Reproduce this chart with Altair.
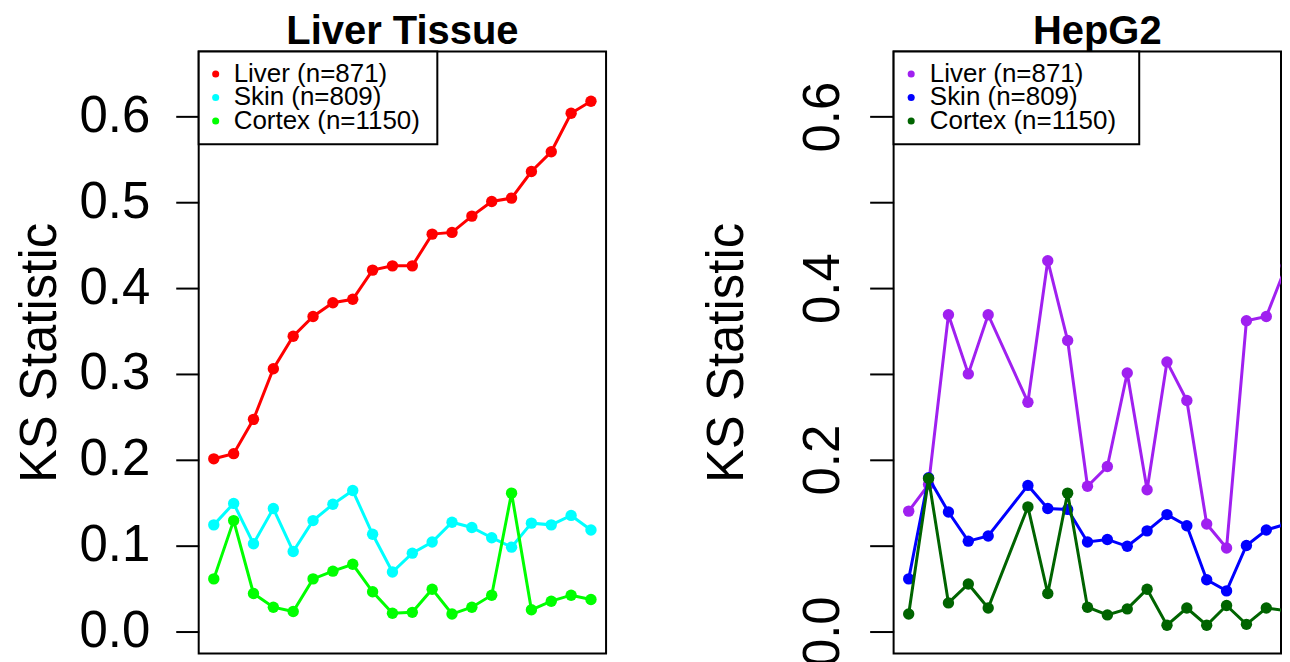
import altair as alt
import pandas as pd

series_names = ["Liver (n=871)", "Skin (n=809)", "Cortex (n=1150)"]

# Left panel: Liver Tissue
tissue_x = list(range(1, 21))
tissue_liver = [0.201, 0.207, 0.247, 0.306, 0.344, 0.367, 0.383, 0.387, 0.421, 0.426,
                0.426, 0.463, 0.465, 0.484, 0.501, 0.505, 0.536, 0.559, 0.604, 0.618]
tissue_skin = [0.124, 0.149, 0.102, 0.143, 0.093, 0.129, 0.148, 0.164, 0.113, 0.069,
               0.091, 0.104, 0.127, 0.121, 0.109, 0.098, 0.126, 0.124, 0.135, 0.118]
tissue_cortex = [0.061, 0.129, 0.044, 0.028, 0.023, 0.061, 0.070, 0.078, 0.046, 0.021,
                 0.022, 0.049, 0.020, 0.028, 0.042, 0.161, 0.025, 0.035, 0.042, 0.037]
tissue_colors = ["#FF0000", "#00FFFF", "#00FF00"]

# Right panel: HepG2 (position 6 has no value)
hepg2_x = [1, 2, 3, 4, 5, 7, 8, 9, 10, 11, 12, 13, 14, 15, 16, 17, 18, 19, 20]
hepg2_liver = [0.140, 0.171, 0.369, 0.300, 0.369, 0.267, 0.432, 0.339, 0.169, 0.192,
               0.301, 0.165, 0.314, 0.269, 0.125, 0.097, 0.362, 0.367, 0.426]
hepg2_skin = [0.061, 0.179, 0.139, 0.105, 0.111, 0.170, 0.143, 0.142, 0.104, 0.107,
              0.099, 0.117, 0.136, 0.123, 0.060, 0.047, 0.100, 0.118, 0.125]
hepg2_cortex = [0.020, 0.178, 0.033, 0.055, 0.027, 0.145, 0.044, 0.161, 0.028, 0.019,
                0.026, 0.049, 0.007, 0.027, 0.007, 0.030, 0.008, 0.027, 0.024]
hepg2_colors = ["#A020F0", "#0000FF", "#006400"]

y_ticks = [0.0, 0.1, 0.2, 0.3, 0.4, 0.5, 0.6]
FONT = "Liberation Sans"


def make_panel(xs, series_vals, colors, title, rotated, width, xmax, legend_w,
               leg_dot_x, leg_text_x, title_dx):
    rows = []
    for name, vals in zip(series_names, series_vals):
        for x, v in zip(xs, vals):
            rows.append({"x": x, "ks": v, "series": name})
    df = pd.DataFrame(rows)

    xsc = alt.Scale(domain=[0.24, xmax], nice=False, zero=False)
    ysc = alt.Scale(domain=[-0.026, 0.676], nice=False, zero=False)

    if rotated:
        yaxis = alt.Axis(values=y_ticks, format=".1f", labelAngle=270, labelAlign="center",
                         labelBaseline="alphabetic", labelFontSize=51, labelFont=FONT,
                         labelExpr="round(datum.value*10) % 2 == 0 ? datum.label : ''",
                         tickSize=24, labelPadding=31, minExtent=100, maxExtent=100,
                         titlePadding=40, titleFontSize=51, titleFont=FONT,
                         titleFontWeight="normal", labelOverlap=False)
    else:
        yaxis = alt.Axis(values=y_ticks, format=".1f", labelFontSize=51, labelFont=FONT,
                         tickSize=23, labelPadding=26, minExtent=116, maxExtent=116,
                         titlePadding=16, titleFontSize=51, titleFont=FONT,
                         titleFontWeight="normal", labelOverlap=False)

    cscale = alt.Scale(domain=series_names, range=colors)

    layers = []
    for name in series_names:
        base = alt.Chart(df).transform_filter(alt.datum.series == name).encode(
            x=alt.X("x:Q", scale=xsc, axis=None),
            y=alt.Y("ks:Q", scale=ysc, axis=yaxis, title="KS Statistic"),
            color=alt.Color("series:N", scale=cscale, legend=None),
        )
        layers.append(base.mark_line(strokeWidth=3, clip=True))
        layers.append(base.mark_circle(size=130, opacity=1, clip=True))

    # legend box (drawn in pixel space at the top-left of the plot)
    one = pd.DataFrame({"k": [0]})
    layers.append(alt.Chart(one).mark_rect(fill="white", stroke="black", strokeWidth=2).encode(
        x=alt.value(0), x2=alt.value(legend_w), y=alt.value(0), y2=alt.value(93)))
    for i, (name, col) in enumerate(zip(series_names, colors)):
        ypix = 22.6 + i * 23.5
        lab = pd.DataFrame({"label": [name]})
        layers.append(alt.Chart(lab).mark_circle(size=50, opacity=1, color=col).encode(
            x=alt.value(leg_dot_x), y=alt.value(ypix)))
        layers.append(alt.Chart(lab).mark_text(align="left", baseline="middle", fontSize=26,
                                                font=FONT, color="black").encode(
            text="label:N", x=alt.value(leg_text_x), y=alt.value(ypix)))

    return alt.layer(*layers).properties(
        width=width, height=603,
        title=alt.Title(title, fontSize=40, font=FONT, fontWeight="bold", anchor="middle",
                        frame="group", baseline="alphabetic", offset=-34, dx=title_dx,
                        color="black"),
    )


left = make_panel(tissue_x, [tissue_liver, tissue_skin, tissue_cortex], tissue_colors,
                  "Liver Tissue", False, 408, 20.76, 239, 17, 35, 0)
right = make_panel(hepg2_x, [hepg2_liver, hepg2_skin, hepg2_cortex], hepg2_colors,
                   "HepG2", True, 388, 19.74, 246, 17.6, 36.3, 10)

chart = alt.hconcat(left, right, spacing=94).resolve_scale(color="independent").properties(
    padding={"left": 6, "top": 3, "right": 0, "bottom": 0}
).configure_view(stroke="black", strokeWidth=2).configure_axis(
    domain=False, grid=False, tickColor="black", tickWidth=2, labelColor="black",
    titleColor="black"
)

chart.save("out.html", embed_options={"renderer": "svg", "actions": False})
